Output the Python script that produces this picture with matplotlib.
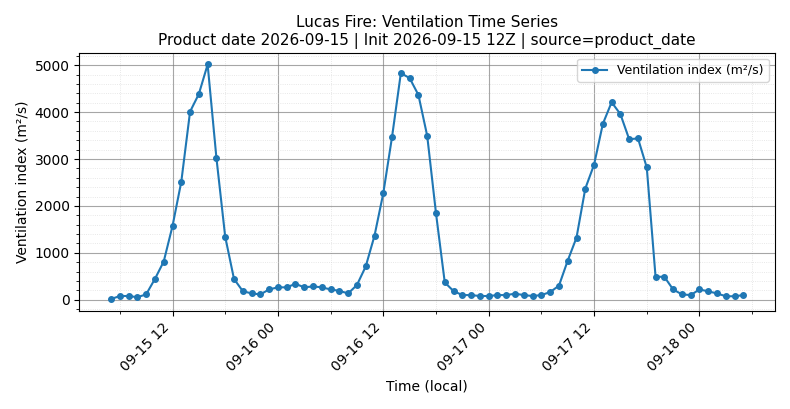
import matplotlib
matplotlib.use("Agg")
import matplotlib.pyplot as plt
import matplotlib.dates as mdates
from matplotlib.ticker import AutoMinorLocator
import pandas as pd

start = "2026-09-15 05:00"
values = [15, 80, 80, 55, 115, 445, 815, 1570, 2515, 4010, 4385, 5015, 3025, 1345, 445,
          185, 135, 115, 220, 265, 265, 340, 265, 285, 265, 220, 190, 135, 315, 710, 1365,
          2270, 3475, 4830, 4725, 4365, 3495, 1845, 370,
          185, 100, 100, 80, 80, 100, 100, 130, 100, 80, 100, 165, 300, 835, 1325, 2370,
          2880, 3750, 4210, 3955, 3420, 3440, 2820, 490, 490, 220, 115, 100, 220, 180, 135,
          75, 75, 100]
times = pd.date_range(start, periods=len(values), freq="h")

fig, ax = plt.subplots(figsize=(7.9, 4.09), dpi=100)
ax.plot(times, values, marker="o", markersize=4, color="#1f77b4", label="Ventilation index (m²/s)")
ax.xaxis.set_major_locator(mdates.HourLocator(byhour=[0, 12]))
ax.xaxis.set_minor_locator(mdates.HourLocator(byhour=[6, 18]))
ax.xaxis.set_major_formatter(mdates.DateFormatter("%m-%d %H"))
ax.yaxis.set_minor_locator(AutoMinorLocator(5))
ax.grid(True, which="major", color="gray", alpha=0.7, linewidth=0.8)
ax.grid(True, which="minor", linestyle=":", color="lightgray", alpha=0.7, linewidth=0.6)
plt.setp(ax.get_xticklabels(), rotation=45, ha="right")
ax.set_xlabel("Time (local)")
ax.set_ylabel("Ventilation index (m²/s)")
ax.set_title("Lucas Fire: Ventilation Time Series\nProduct date 2026-09-15 | Init 2026-09-15 12Z | source=product_date", fontsize=11)
ax.legend(loc="upper right", fontsize=9)
fig.tight_layout()
fig.savefig("out.png", dpi=100)
